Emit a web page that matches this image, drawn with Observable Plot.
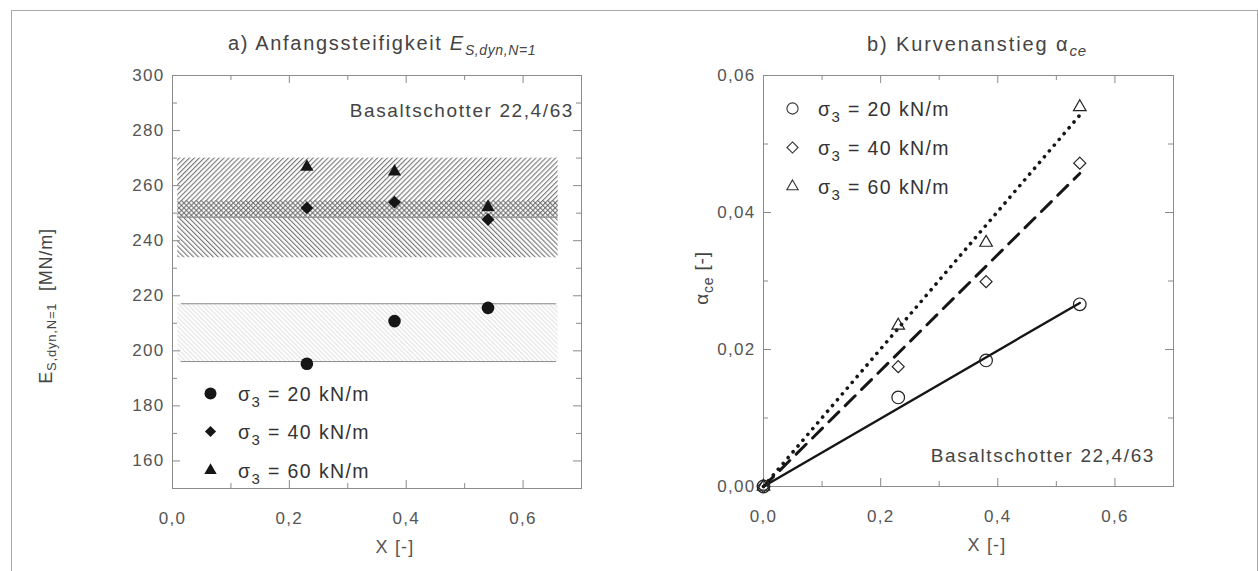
<!DOCTYPE html>
<html><head><meta charset="utf-8">
<script src="https://cdn.jsdelivr.net/npm/d3@7"></script>
<script src="https://cdn.jsdelivr.net/npm/@observablehq/plot@0.6"></script>
<style>
body{margin:0;background:#fff;}
#wrap{position:relative;width:1258px;height:571px;overflow:hidden;background:#fff;font-family:"Liberation Sans",Arial,sans-serif;color:#3c3c3c;}
.abs{position:absolute;white-space:nowrap;line-height:19px;}
#wrap svg text{letter-spacing:1.3px;}
.sub{font-size:13px;position:relative;top:5px;}
.rot{transform:translate(-50%,-50%) rotate(-90deg);}
</style></head><body>
<svg width="0" height="0" style="position:absolute">
<defs>
<pattern id="hatchUp" width="3.5" height="3.5" patternUnits="userSpaceOnUse" patternTransform="rotate(45)"><line x1="0.6" y1="0" x2="0.6" y2="3.5" stroke="#666" stroke-width="1"/></pattern>
<pattern id="hatchDown" width="3.5" height="3.5" patternUnits="userSpaceOnUse" patternTransform="rotate(-45)"><line x1="0.6" y1="0" x2="0.6" y2="3.5" stroke="#666" stroke-width="1"/></pattern>
<pattern id="hatchLight" width="3.2" height="3.2" patternUnits="userSpaceOnUse" patternTransform="rotate(-45)"><line x1="0.6" y1="0" x2="0.6" y2="3.2" stroke="#e0e0e0" stroke-width="1"/></pattern>
</defs></svg>
<div id="wrap">
  <div style="position:absolute;left:11px;top:10px;width:1247px;height:600px;border:1.5px solid #a8a8a8;box-sizing:border-box;"></div>
  <div id="left" style="position:absolute;left:0;top:0"></div>
  <div id="right" style="position:absolute;left:629px;top:0"></div>

  <div class="abs" style="left:382px;top:34px;transform:translateX(-50%);font-size:20px;letter-spacing:1.7px;color:#444">a) Anfangssteifigkeit <i>E<span class="sub" style="letter-spacing:0.6px;font-size:14px">S,dyn,N=1</span></i></div>
  <div class="abs" style="left:977px;top:35px;transform:translateX(-50%);font-size:20px;letter-spacing:1.9px;color:#444">b) Kurvenanstieg α<i class="sub" style="font-size:15px;letter-spacing:0.8px">ce</i></div>

  <div class="abs rot" style="left:47px;top:306px;font-size:18px;letter-spacing:0.8px;color:#444">E<span class="sub" style="top:4px">S,dyn,N=1</span>&nbsp; [MN/m]</div>
  <div class="abs rot" style="left:702px;top:278px;font-size:19px;letter-spacing:0.8px;color:#444">α<span class="sub" style="font-size:14px">ce</span> [-]</div>

  <div class="abs" style="left:395px;top:538px;transform:translateX(-50%);font-size:18px;letter-spacing:1.2px;color:#555">X [-]</div>
  <div class="abs" style="left:987px;top:536px;transform:translateX(-50%);font-size:18px;letter-spacing:1.2px;color:#555">X [-]</div>

  <div class="abs" style="right:684px;top:101px;font-size:19px;letter-spacing:1.6px;color:#444">Basaltschotter 22,4/63</div>
  <div class="abs" style="right:103px;top:446px;font-size:19px;letter-spacing:1.6px;color:#444">Basaltschotter 22,4/63</div>

  <div id="legL"></div>
  <div id="legR"></div>
</div>
<script>
// ---------- data ----------
const legendLabels = ["20", "40", "60"];           // σ3 in kN/m
const xSamples = [0.23, 0.38, 0.54];
const es20 = [195.3, 210.8, 215.6];
const es40 = [251.9, 254.0, 247.7];
const es60 = [266.8, 265.1, 252.2];

const bandKeys = ["up", "down", "light"];
const bandLow  = [248.5, 233.8, 196.1];
const bandHigh = [270.0, 254.5, 217.1];
const bandFrom = [0.009, 0.009, 0.009];
const bandTo   = [0.66, 0.66, 0.66];
const limitValues = [196.1, 217.1, 248.5];
const limitFrom = [0.015, 0.015, 0.009];
const limitTo   = [0.657, 0.657, 0.66];

const xR = [0, 0.23, 0.38, 0.54];
const alpha20 = [0, 0.0130, 0.0184, 0.0266];
const alpha40 = [0, 0.0175, 0.0299, 0.0472];
const alpha60 = [0, 0.0235, 0.0356, 0.0554];
const fitX  = [0, 0.54];
const fit20 = [0, 0.0268];
const fit40 = [0, 0.0457];
const fit60 = [0, 0.0542];

const xDomain = [0, 0.7];
const xTicks = [0, 0.2, 0.4, 0.6];
const xMinor = [0.1, 0.3, 0.5];
const yDomainL = [150, 300];
const yTicksL = [160, 180, 200, 220, 240, 260, 280, 300];
const yMinorL = [170, 190, 210, 230, 250, 270, 290];
const yDomainR = [0, 0.06];
const yTicksR = [0, 0.02, 0.04, 0.06];
const yMinorR = [0.01, 0.03, 0.05];

// ---------- helpers ----------
const comma = f => d => d3.format(f)(d).replace(".", ",");
const TICK = "#8a8a8a";
const font = '"Liberation Sans", Arial, sans-serif';
// inward ticks on all four sides: frame-spanning rules shortened by insets
function inwardTicks(W, H, xMaj, xMin, yMaj, yMin) {
  const m = [];
  for (const [vals, len] of [[xMaj, 8], [xMin, 5]]) {
    m.push(Plot.ruleX(vals, {insetTop: H - len, stroke: TICK}));
    m.push(Plot.ruleX(vals, {insetBottom: H - len, stroke: TICK}));
  }
  for (const [vals, len] of [[yMaj, 8], [yMin, 5]]) {
    m.push(Plot.ruleY(vals, {insetRight: W - len, stroke: TICK}));
    m.push(Plot.ruleY(vals, {insetLeft: W - len, stroke: TICK}));
  }
  return m;
}

// ---------- left panel ----------
const bands = bandKeys.map((k, i) => ({k, x1: bandFrom[i], x2: bandTo[i], y1: bandLow[i], y2: bandHigh[i]}));
const limits = limitValues.map((v, i) => ({v, x1: limitFrom[i], x2: limitTo[i]}));
const pts = xSamples.map((x, i) => ({x, a: es20[i], b: es40[i], c: es60[i]}));
const fills = {up: "url(#hatchUp)", down: "url(#hatchDown)", light: "url(#hatchLight)"};

const L = {width: 629, height: 571, marginLeft: 172, marginRight: 48, marginTop: 75, marginBottom: 83};
const left = Plot.plot({
  ...L,
  x: {domain: xDomain}, y: {domain: yDomainL},
  style: {fontFamily: font, fontSize: "17px", color: "#555", background: "transparent", overflow: "visible"},
  marks: [
    ...bandKeys.map(k => Plot.rect(bands.filter(d => d.k === k), {x1: "x1", x2: "x2", y1: "y1", y2: "y2", fill: fills[k]})),
    Plot.ruleY(limits, {y: "v", x1: "x1", x2: "x2", stroke: "#8a8a8a", strokeWidth: 1}),
    ...inwardTicks(L.width - L.marginLeft - L.marginRight, L.height - L.marginTop - L.marginBottom, xTicks, xMinor, yTicksL, yMinorL),
    Plot.frame({stroke: "#8c8c8c"}),
    Plot.axisX(xTicks, {tickSize: 0, tickPadding: 23, tickFormat: comma(".1f"), label: null, fill: "#555"}),
    Plot.axisY(yTicksL, {tickSize: 0, tickPadding: 8, tickFormat: d => String(d), label: null, fill: "#555"}),
    Plot.dot(pts, {x: "x", y: "a", symbol: "circle", r: 6.3, fill: "#161616", stroke: "none"}),
    Plot.dot(pts, {x: "x", y: "b", symbol: "diamond2", r: 5.8, fill: "#161616", stroke: "none"}),
    Plot.dot(pts, {x: "x", y: "c", symbol: "triangle", r: 4.9, fill: "#161616", stroke: "none"}),
    // legend markers (frame-anchored)
    Plot.dot([0], {frameAnchor: "top-left", dx: 38, dy: 318, symbol: "circle", r: 6, fill: "#161616", stroke: "none"}),
    Plot.dot([0], {frameAnchor: "top-left", dx: 38, dy: 356, symbol: "diamond2", r: 5, fill: "#161616", stroke: "none"}),
    Plot.dot([0], {frameAnchor: "top-left", dx: 38, dy: 395, symbol: "triangle", r: 4.6, fill: "#161616", stroke: "none"})
  ]
});
document.getElementById("left").append(left);

// ---------- right panel ----------
const ptsR = xR.map((x, i) => ({x, a: alpha20[i], b: alpha40[i], c: alpha60[i]}));
const fitR = fitX.map((x, i) => ({x, a: fit20[i], b: fit40[i], c: fit60[i]}));

const R = {width: 629, height: 571, marginLeft: 134, marginRight: 85, marginTop: 75, marginBottom: 85};
const right = Plot.plot({
  ...R,
  x: {domain: xDomain}, y: {domain: yDomainR},
  style: {fontFamily: font, fontSize: "17px", color: "#555", background: "transparent", overflow: "visible"},
  marks: [
    ...inwardTicks(R.width - R.marginLeft - R.marginRight, R.height - R.marginTop - R.marginBottom, xTicks, xMinor, yTicksR, yMinorR),
    Plot.frame({stroke: "#8c8c8c"}),
    Plot.axisX(xTicks, {tickSize: 0, tickPadding: 23, tickFormat: comma(".1f"), label: null, fill: "#555"}),
    Plot.axisY(yTicksR, {tickSize: 0, tickPadding: 8, tickFormat: comma(".2f"), label: null, fill: "#555"}),
    Plot.line(fitR, {x: "x", y: "a", stroke: "#161616", strokeWidth: 2.4}),
    Plot.line(fitR, {x: "x", y: "b", stroke: "#161616", strokeWidth: 3, strokeDasharray: "14,9"}),
    Plot.line(fitR, {x: "x", y: "c", stroke: "#161616", strokeWidth: 3.6, strokeDasharray: "0.1,7.5", strokeLinecap: "round"}),
    Plot.dot(ptsR, {x: "x", y: "a", symbol: "circle", r: 6.3, fill: "none", stroke: "#222", strokeWidth: 1.2}),
    Plot.dot(ptsR, {x: "x", y: "b", symbol: "diamond2", r: 5.4, fill: "none", stroke: "#222", strokeWidth: 1.2}),
    Plot.dot(ptsR, {x: "x", y: "c", symbol: "triangle2", r: 6, fill: "none", stroke: "#222", strokeWidth: 1.2}),
    Plot.dot([0], {frameAnchor: "top-left", dx: 29, dy: 33, symbol: "circle", r: 5.6, fill: "none", stroke: "#333", strokeWidth: 1.1}),
    Plot.dot([0], {frameAnchor: "top-left", dx: 29, dy: 72, symbol: "diamond2", r: 5, fill: "none", stroke: "#333", strokeWidth: 1.1}),
    Plot.dot([0], {frameAnchor: "top-left", dx: 29, dy: 111, symbol: "triangle2", r: 5.4, fill: "none", stroke: "#333", strokeWidth: 1.1})
  ]
});
document.getElementById("right").append(right);

// ---------- legend texts (HTML, with subscripts) ----------
function legendText(container, x, ys) {
  const el = document.getElementById(container);
  legendLabels.forEach((lab, i) => {
    const d = document.createElement("div");
    d.className = "abs";
    d.style.cssText = `left:${x}px;top:${ys[i] + 8 - 16.5}px;font-size:19.5px;letter-spacing:1.4px;color:#333;`;
    d.innerHTML = `σ<span class="sub" style="font-size:15px;top:6px">3</span> = ${lab} kN/m`;
    el.append(d);
  });
}
legendText("legL", 238, [393, 431, 470]);
legendText("legR", 818, [108, 147, 186]);
</script>
</body></html>
